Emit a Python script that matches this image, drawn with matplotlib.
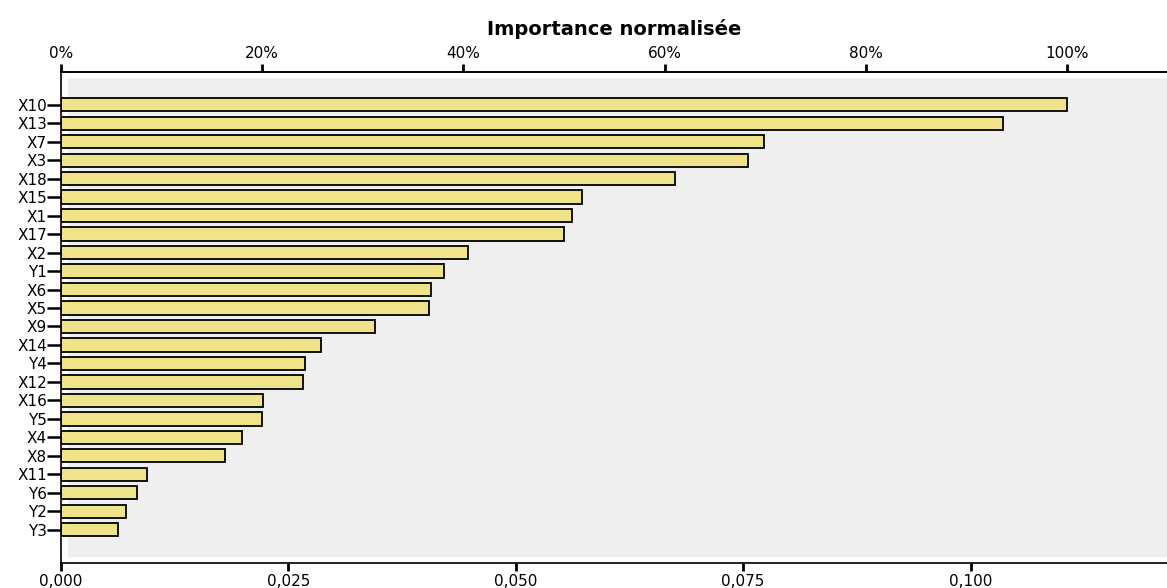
import matplotlib.pyplot as plt
from matplotlib.patches import Rectangle
from matplotlib.ticker import FuncFormatter

# variables, sorted from most to least important
labels = ["X10", "X13", "X7", "X3", "X18", "X15", "X1", "X17", "X2", "Y1", "X6", "X5",
          "X9", "X14", "Y4", "X12", "X16", "Y5", "X4", "X8", "X11", "Y6", "Y2", "Y3"]
importance = [0.1106, 0.1036, 0.0773, 0.0755, 0.0675, 0.0573, 0.0562, 0.0553, 0.0448,
              0.0421, 0.0407, 0.0405, 0.0345, 0.0286, 0.0268, 0.0266, 0.0222, 0.0221,
              0.0199, 0.0180, 0.0094, 0.0083, 0.0071, 0.0063]
x_ticks = [0.0, 0.025, 0.05, 0.075, 0.1]
pct_ticks = [0, 20, 40, 60, 80, 100]

max_imp = max(importance)
n = len(labels)
pos = list(range(n - 1, -1, -1))

fig = plt.figure(figsize=(11.67, 5.88), dpi=100)
ax = fig.add_axes([0.0523, 0.0425, 0.9477, 0.835])
ax.set_facecolor("white")

# light grey panel, slightly inset from the axis lines
ax.add_patch(Rectangle((0.006, 0.012), 1.0, 0.976, transform=ax.transAxes,
                       facecolor="#efefef", edgecolor="none", zorder=0))

ax.barh(pos, importance, height=0.72, color="#efe48a", edgecolor="black",
        linewidth=1.3, zorder=2)

ax.set_xlim(0, 0.1216)
ax.set_ylim(-1.8, n - 1 + 1.77)
ax.set_yticks(pos)
ax.set_yticklabels(labels)
ax.set_xticks(x_ticks)
ax.xaxis.set_major_formatter(FuncFormatter(lambda v, p: f"{v:.3f}".replace(".", ",")))

ax.spines["right"].set_visible(False)
for s in ["left", "bottom", "top"]:
    ax.spines[s].set_linewidth(1.2)

ax.tick_params(axis="y", length=10, width=1.8, labelsize=11, pad=0)
ax.tick_params(axis="x", length=6, width=2, labelsize=11, pad=2)

# top axis: normalised importance
top = ax.secondary_xaxis("top", functions=(lambda v: v / max_imp * 100,
                                           lambda p: p * max_imp / 100))
top.set_xticks(pct_ticks)
top.xaxis.set_major_formatter(FuncFormatter(lambda v, p: f"{v:.0f}%"))
top.tick_params(axis="x", length=6, width=2, labelsize=11, pad=2)
top.spines["top"].set_linewidth(1.2)
top.set_xlabel("Importance normalisée", fontsize=14, fontweight="bold", labelpad=8)

fig.savefig("out.png", dpi=100)
